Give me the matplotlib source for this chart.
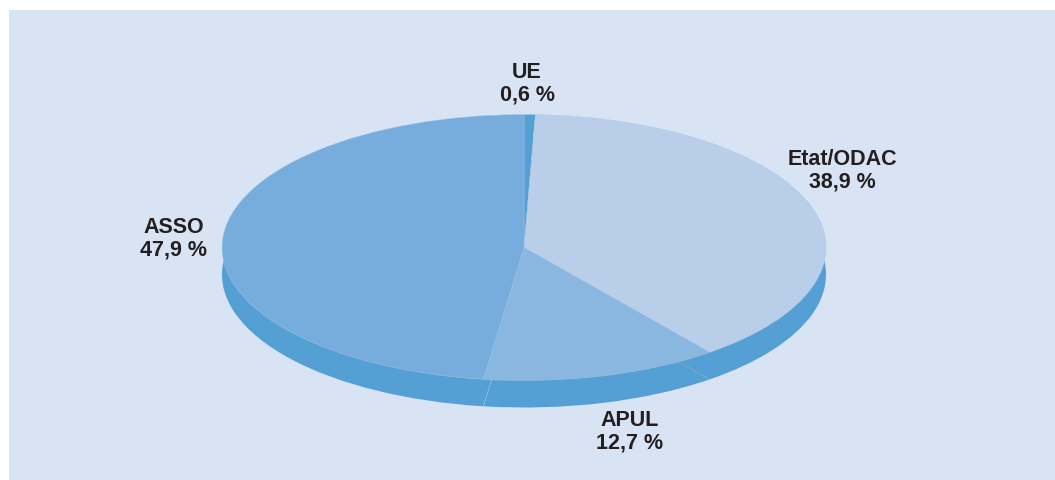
import numpy as np
import matplotlib
matplotlib.use('Agg')
import matplotlib.pyplot as plt
from matplotlib.patches import Rectangle

labels = ['UE', 'Etat/ODAC', 'APUL', 'ASSO']
values = [0.6, 38.9, 12.7, 47.9]
value_labels = ['0,6 %', '38,9 %', '12,7 %', '47,9 %']
colors = ['#549FD3', '#B9CFE9', '#89B7E0', '#77ADDD']
side_color = '#549FD3'
bg_color = '#D8E4F4'
text_color = '#231F20'

W, H = 1055, 480
# pie ellipse in pixels
cx, cy, rx, ry = 524, 247.5, 302, 133
depth = 27 / ry

fig = plt.figure(figsize=(W / 100, H / 100), dpi=100, facecolor='white')
fig.patches.append(Rectangle((9 / W, 0), 1 - 9 / W, 1 - 10 / H, transform=fig.transFigure,
                             facecolor=bg_color, edgecolor='none', zorder=-1))

ax = fig.add_axes([(cx - rx) / W, 1 - (cy + ry) / H, 2 * rx / W, 2 * ry / H])
ax.patch.set_visible(False)

# side of the pie is just a second pie shifted down
bottom, _ = ax.pie(values, colors=[side_color] * 4, startangle=90, counterclock=False,
                   center=(0, -depth), radius=1, frame=True)
for w in bottom:
    w.set_clip_on(False)

# seams are the bottom pie's wedge edges
for w in bottom[2:4]:
    a = np.radians(w.theta1)
    ax.plot([0.75 * np.cos(a), np.cos(a)], [0.75 * np.sin(a) - depth, np.sin(a) - depth],
            color='#A9CFEA', lw=0.5, ls=(0, (1.5, 1)), clip_on=False, zorder=1.5)

top, _ = ax.pie(values, colors=colors, startangle=90, counterclock=False, radius=1, frame=True,
                wedgeprops={'edgecolor': '#A9C8E8', 'linewidth': 0.3})
for w in top:
    w.set_clip_on(False)
    w.set_zorder(2)

ax.set_aspect('auto')
ax.set_xlim(-1, 1)
ax.set_ylim(-1, 1)
ax.axis('off')

label_pos = [(527, 84), (842, 171), (630, 432), (174, 239)]
for lab, val, (x, y) in zip(labels, value_labels, label_pos):
    fig.text(x / W, 1 - y / H, lab + '\n' + val, ha='center', va='center', ma='center',
             family='Liberation Sans', fontweight='bold', fontsize=15.5, color=text_color,
             linespacing=1.08)

fig.savefig('out.png', dpi=100, facecolor='white')
